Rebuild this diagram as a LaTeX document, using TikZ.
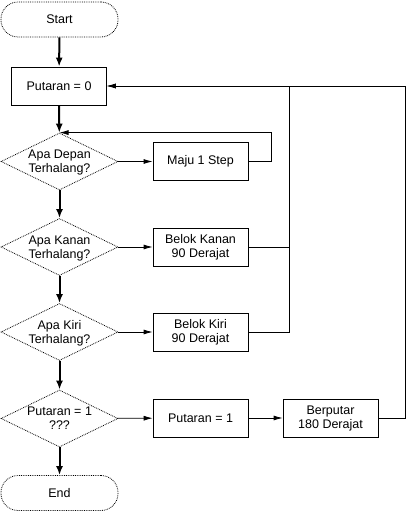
\documentclass[tikz,border=0pt]{standalone}
\usepackage{fontspec}
\setmainfont{Liberation Sans}
\usetikzlibrary{shapes.geometric,arrows.meta}

\tikzset{
    terminal/.style={draw, densely dotted, rounded corners=17pt, minimum width=117pt, minimum height=35pt, inner sep=0pt},
    process/.style={draw, minimum width=95pt, minimum height=38pt, inner sep=0pt, align=center},
    decision/.style={draw, densely dotted, shape=diamond, minimum width=117pt, minimum height=57pt, inner sep=0pt},
    dtext/.style={align=center, inner sep=0pt, text depth=0pt},
    flow/.style={-{Latex[length=9pt,width=5pt]}},
    mainflow/.style={-{Latex[length=9pt,width=7pt]}, line width=2pt}
}

\begin{document}
\begin{tikzpicture}[x=1pt, y=-1pt, font=\fontsize{12.5}{14}\selectfont, line width=0.8pt]
        \useasboundingbox (0,0) rectangle (407,513);

        % main column
        \node[terminal] (start) at (59.5,19.5) {Start};
        \node[process] (p0) at (59,86) {Putaran = 0};
        \node[decision, label={[dtext]center:Apa Depan\\Terhalang?}] (d1) at (59.5,161.5) {};
        \node[decision, label={[dtext]center:Apa Kanan\\Terhalang?}] (d2) at (59.5,247) {};
        \node[decision, label={[dtext]center:Apa Kiri\\Terhalang?}] (d3) at (59.5,332) {};
        \node[decision, label={[dtext]center:Putaran = 1\\???}] (d4) at (59.5,418.5) {};
        \node[terminal] (end) at (59.5,493) {End};

        % right column
        \node[process] (maju) at (200.5,161.5) {Maju 1 Step};
        \node[process] (kanan) at (200.5,247) {Belok Kanan\\90 Derajat};
        \node[process] (kiri) at (200.5,332) {Belok Kiri\\90 Derajat};
        \node[process] (p1) at (200.5,418) {Putaran = 1};
        \node[process] (putar) at (330.5,418) {Berputar\\180 Derajat};
        \coordinate (join) at (289,86);

        \draw[mainflow] (start) -- (p0);
        \draw[mainflow] (p0) -- (d1);
        \draw[mainflow] (d1) -- (d2);
        \draw[mainflow] (d2) -- (d3);
        \draw[mainflow] (d3) -- (d4);
        \draw[mainflow] (d4) -- (end);

        \draw[flow] (d1) -- (maju);
        \draw[flow] (d2) -- (kanan);
        \draw[flow] (d3) -- (kiri);
        \draw[flow] (d4) -- (p1);
        \draw[flow] (p1) -- (putar);

        % loops back
        \draw[flow] (maju.east) -- ++(23,0) |- (d1.north);
        \draw (kanan.east) -- (kanan.east -| join);
        \draw[flow] (kiri.east) -| (join) -- (p0.east);
        \draw[flow] (putar.east) -- ++(27,0) |- (p0.east);
    \end{tikzpicture}
\end{document}
